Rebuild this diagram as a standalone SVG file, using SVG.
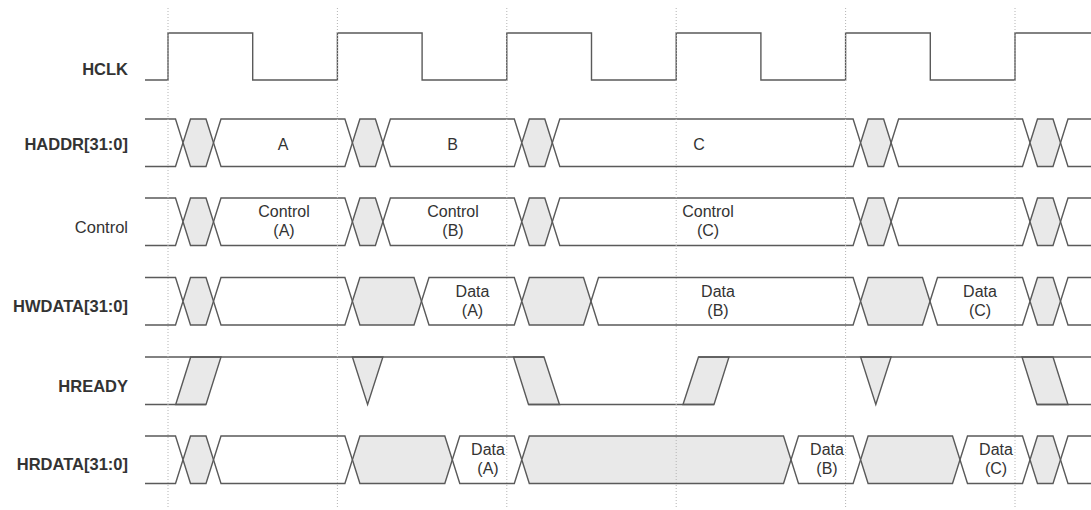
<svg xmlns="http://www.w3.org/2000/svg" width="1091" height="510" viewBox="0 0 1091 510">
<style>
.bg{fill:#ffffff}
.sig{fill:none;stroke:#5a5a5a;stroke-width:1.4;stroke-linejoin:miter}
.w{fill:none;stroke:#5a5a5a;stroke-width:1.4}
.g{fill:#e9e9e9;stroke:#5a5a5a;stroke-width:1.4}
.guide{stroke:#b4b4b4;stroke-width:1;stroke-dasharray:1,2;fill:none}
.lbl{font-family:"Liberation Sans",Arial,sans-serif;font-size:16.5px;fill:#333;text-anchor:end}
.b{font-weight:bold}
.val{font-family:"Liberation Sans",Arial,sans-serif;font-size:16px;fill:#333;text-anchor:middle}
</style>
<rect class="bg" x="0" y="0" width="1091" height="510"/>

<g id="labels">
<text class="lbl b" x="128" y="74.5">HCLK</text>
<text class="lbl b" x="128" y="149.5">HADDR[31:0]</text>
<text class="lbl" x="128" y="232.5">Control</text>
<text class="lbl b" x="128" y="311.5">HWDATA[31:0]</text>
<text class="lbl b" x="128" y="391.5">HREADY</text>
<text class="lbl b" x="128" y="470">HRDATA[31:0]</text>
</g>

<g id="hclk">
<path class="sig" d="M145,80 H168 V33 H252.7 V80 H337.4 V33 H422.1 V80 H506.8 V33 H591.5 V80 H676.2 V33 H760.9 V80 H845.6 V33 H930.3 V80 H1015 V33 H1092"/>
</g>

<g id="haddr" transform="translate(0,119)">
<polyline class="w" points="145,0 175.5,0 183,23.75 175.5,47.5 145,47.5"/>
<polygon class="g" points="183,23.75 190.5,0 206,0 213.5,23.75 206,47.5 190.5,47.5"/>
<polygon class="w" points="213.5,23.75 221,0 344.9,0 352.4,23.75 344.9,47.5 221,47.5"/>
<polygon class="g" points="352.4,23.75 359.9,0 375.4,0 382.9,23.75 375.4,47.5 359.9,47.5"/>
<polygon class="w" points="382.9,23.75 390.4,0 514.3,0 521.8,23.75 514.3,47.5 390.4,47.5"/>
<polygon class="g" points="521.8,23.75 529.3,0 544.8,0 552.3,23.75 544.8,47.5 529.3,47.5"/>
<polygon class="w" points="552.3,23.75 559.8,0 853.1,0 860.6,23.75 853.1,47.5 559.8,47.5"/>
<polygon class="g" points="860.6,23.75 868.1,0 883.6,0 891.1,23.75 883.6,47.5 868.1,47.5"/>
<polygon class="w" points="891.1,23.75 898.6,0 1022.5,0 1030,23.75 1022.5,47.5 898.6,47.5"/>
<polygon class="g" points="1030,23.75 1037.5,0 1053,0 1060.5,23.75 1053,47.5 1037.5,47.5"/>
<polyline class="w" points="1092,0 1068,0 1060.5,23.75 1068,47.5 1092,47.5"/>
<text class="val" x="283" y="31">A</text>
<text class="val" x="452.5" y="31">B</text>
<text class="val" x="699" y="31">C</text>
</g>

<g id="control" transform="translate(0,198)">
<polyline class="w" points="145,0 175.5,0 183,23.75 175.5,47.5 145,47.5"/>
<polygon class="g" points="183,23.75 190.5,0 206,0 213.5,23.75 206,47.5 190.5,47.5"/>
<polygon class="w" points="213.5,23.75 221,0 344.9,0 352.4,23.75 344.9,47.5 221,47.5"/>
<polygon class="g" points="352.4,23.75 359.9,0 375.4,0 382.9,23.75 375.4,47.5 359.9,47.5"/>
<polygon class="w" points="382.9,23.75 390.4,0 514.3,0 521.8,23.75 514.3,47.5 390.4,47.5"/>
<polygon class="g" points="521.8,23.75 529.3,0 544.8,0 552.3,23.75 544.8,47.5 529.3,47.5"/>
<polygon class="w" points="552.3,23.75 559.8,0 853.1,0 860.6,23.75 853.1,47.5 559.8,47.5"/>
<polygon class="g" points="860.6,23.75 868.1,0 883.6,0 891.1,23.75 883.6,47.5 868.1,47.5"/>
<polygon class="w" points="891.1,23.75 898.6,0 1022.5,0 1030,23.75 1022.5,47.5 898.6,47.5"/>
<polygon class="g" points="1030,23.75 1037.5,0 1053,0 1060.5,23.75 1053,47.5 1037.5,47.5"/>
<polyline class="w" points="1092,0 1068,0 1060.5,23.75 1068,47.5 1092,47.5"/>
<text class="val" x="284" y="19.25">Control</text>
<text class="val" x="284" y="38.25">(A)</text>
<text class="val" x="453" y="19.25">Control</text>
<text class="val" x="453" y="38.25">(B)</text>
<text class="val" x="708" y="19.25">Control</text>
<text class="val" x="708" y="38.25">(C)</text>
</g>

<g id="hwdata" transform="translate(0,277.5)">
<polyline class="w" points="145,0 175.5,0 183,23.75 175.5,47.5 145,47.5"/>
<polygon class="g" points="183,23.75 190.5,0 206,0 213.5,23.75 206,47.5 190.5,47.5"/>
<polygon class="w" points="213.5,23.75 221,0 344.9,0 352.4,23.75 344.9,47.5 221,47.5"/>
<polygon class="g" points="352.4,23.75 359.9,0 414,0 421.5,23.75 414,47.5 359.9,47.5"/>
<polygon class="w" points="421.5,23.75 429,0 514.3,0 521.8,23.75 514.3,47.5 429,47.5"/>
<polygon class="g" points="521.8,23.75 529.3,0 583.5,0 591,23.75 583.5,47.5 529.3,47.5"/>
<polygon class="w" points="591,23.75 598.5,0 853.1,0 860.6,23.75 853.1,47.5 598.5,47.5"/>
<polygon class="g" points="860.6,23.75 868.1,0 922.5,0 930,23.75 922.5,47.5 868.1,47.5"/>
<polygon class="w" points="930,23.75 937.5,0 1022.5,0 1030,23.75 1022.5,47.5 937.5,47.5"/>
<polygon class="g" points="1030,23.75 1037.5,0 1053,0 1060.5,23.75 1053,47.5 1037.5,47.5"/>
<polyline class="w" points="1092,0 1068,0 1060.5,23.75 1068,47.5 1092,47.5"/>
<text class="val" x="472.5" y="19.25">Data</text>
<text class="val" x="472.5" y="38.25">(A)</text>
<text class="val" x="718" y="19.25">Data</text>
<text class="val" x="718" y="38.25">(B)</text>
<text class="val" x="980" y="19.25">Data</text>
<text class="val" x="980" y="38.25">(C)</text>
</g>

<g id="hready" transform="translate(0,357)">
<polygon class="g" points="175.7,47.5 190.7,0 221,0 206,47.5"/>
<polygon class="g" points="352.4,0 382.9,0 367.6,47.5"/>
<polygon class="g" points="513.5,0 544,0 559.5,47.5 528.5,47.5"/>
<polygon class="g" points="683,47.5 698.5,0 729,0 714,47.5"/>
<polygon class="g" points="860.6,0 891.1,0 875.8,47.5"/>
<polygon class="g" points="1022,0 1053,0 1068,47.5 1037,47.5"/>
<path class="sig" d="M145,0 H544 M698.5,0 H1092 M145,47.5 H206 M528.5,47.5 H714 M1037,47.5 H1092"/>
</g>

<g id="hrdata" transform="translate(0,436)">
<polyline class="w" points="145,0 175.5,0 183,23.75 175.5,47.5 145,47.5"/>
<polygon class="g" points="183,23.75 190.5,0 206,0 213.5,23.75 206,47.5 190.5,47.5"/>
<polygon class="w" points="213.5,23.75 221,0 344.9,0 352.4,23.75 344.9,47.5 221,47.5"/>
<polygon class="g" points="352.4,23.75 359.9,0 444.8,0 452.3,23.75 444.8,47.5 359.9,47.5"/>
<polygon class="w" points="452.3,23.75 459.8,0 514.3,0 521.8,23.75 514.3,47.5 459.8,47.5"/>
<polygon class="g" points="521.8,23.75 529.3,0 783.5,0 791,23.75 783.5,47.5 529.3,47.5"/>
<polygon class="w" points="791,23.75 798.5,0 853.1,0 860.6,23.75 853.1,47.5 798.5,47.5"/>
<polygon class="g" points="860.6,23.75 868.1,0 952.5,0 960,23.75 952.5,47.5 868.1,47.5"/>
<polygon class="w" points="960,23.75 967.5,0 1022.5,0 1030,23.75 1022.5,47.5 967.5,47.5"/>
<polygon class="g" points="1030,23.75 1037.5,0 1053,0 1060.5,23.75 1053,47.5 1037.5,47.5"/>
<polyline class="w" points="1092,0 1068,0 1060.5,23.75 1068,47.5 1092,47.5"/>
<text class="val" x="488" y="19.25">Data</text>
<text class="val" x="488" y="38.25">(A)</text>
<text class="val" x="827" y="19.25">Data</text>
<text class="val" x="827" y="38.25">(B)</text>
<text class="val" x="996" y="19.25">Data</text>
<text class="val" x="996" y="38.25">(C)</text>
</g>

<g id="connectors">
<line class="guide" x1="168" y1="8" x2="168" y2="508"/>
<line class="guide" x1="337.4" y1="8" x2="337.4" y2="508"/>
<line class="guide" x1="506.8" y1="8" x2="506.8" y2="508"/>
<line class="guide" x1="676.2" y1="8" x2="676.2" y2="508"/>
<line class="guide" x1="845.6" y1="8" x2="845.6" y2="508"/>
<line class="guide" x1="1015" y1="8" x2="1015" y2="508"/>
</g>
</svg>
